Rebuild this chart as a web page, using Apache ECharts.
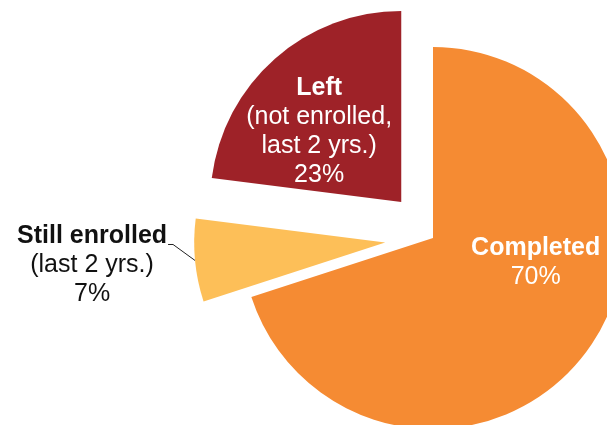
<!DOCTYPE html>
<html><head><meta charset="utf-8">
<script src="https://cdn.jsdelivr.net/npm/echarts@6/dist/echarts.min.js"></script>
<style>html,body{margin:0;padding:0;background:#fff}#c{width:607px;height:425px}</style>
</head><body><div id="c"></div>
<script>
const categories = ['Completed', 'Still enrolled', 'Left'];
const subLabels = ['', '(last 2 yrs.)', '(not enrolled,\nlast 2 yrs.)'];
const values = [70, 7, 23];
const colors = ['#F58B33', '#FDBF58', '#9E2228'];

const FONT = '"Liberation Sans", Arial, Helvetica, sans-serif';
const chart = echarts.init(document.getElementById('c'), null, {renderer: 'canvas'});

function fmt(p) {
  const i = p.dataIndex;
  const lines = ['{b|' + categories[i] + '}'];
  if (subLabels[i]) subLabels[i].split('\n').forEach(s => lines.push('{n|' + s + '}'));
  lines.push('{n|' + values[i] + '%}');
  return lines.join('\n');
}
function rich(color) {
  return {
    b: {fontFamily: FONT, fontSize: 25, fontWeight: 'bold', color: color, lineHeight: 29, align: 'center'},
    n: {fontFamily: FONT, fontSize: 25, color: color, lineHeight: 29, align: 'center'}
  };
}

const data = categories.map((c, i) => {
  const outside = i === 1;
  return {
    name: c,
    value: values[i],
    selected: i !== 0,
    itemStyle: {color: colors[i]},
    label: {
      show: true,
      position: outside ? 'outside' : 'inside',
      formatter: fmt,
      rich: rich(outside ? '#111' : '#fff')
    },
    labelLine: {
      show: outside,
      length: 22,
      length2: 5,
      lineStyle: {color: '#222', width: 1}
    }
  };
});

chart.setOption({
  animation: false,
  backgroundColor: '#fff',
  series: [{
    type: 'pie',
    center: [433, 238],
    radius: 191,
    startAngle: 90,
    clockwise: true,
    selectedMode: 'multiple',
    selectedOffset: 48,
    avoidLabelOverlap: false,
    emphasis: {disabled: true},
    data: data,
    labelLayout: function (p) {
      if (p.dataIndex === 0) return {dx: 23, dy: -33};
      if (p.dataIndex === 2) return {dx: -17, dy: 4};
      if (p.dataIndex === 1 && p.labelLinePoints) {
        const p0 = p.labelLinePoints[0];
        const p1 = [p0[0] - 22, p0[1] - 16];
        const p2 = [p1[0] - 5, p1[1]];
        const r = p.labelRect;
        return {
          dx: (p2[0] - 1) - (r.x + r.width),
          dy: (p2[1] - 21) - r.y,
          labelLinePoints: [p0, p1, p2]
        };
      }
      return {};
    }
  }]
});
</script></body></html>
